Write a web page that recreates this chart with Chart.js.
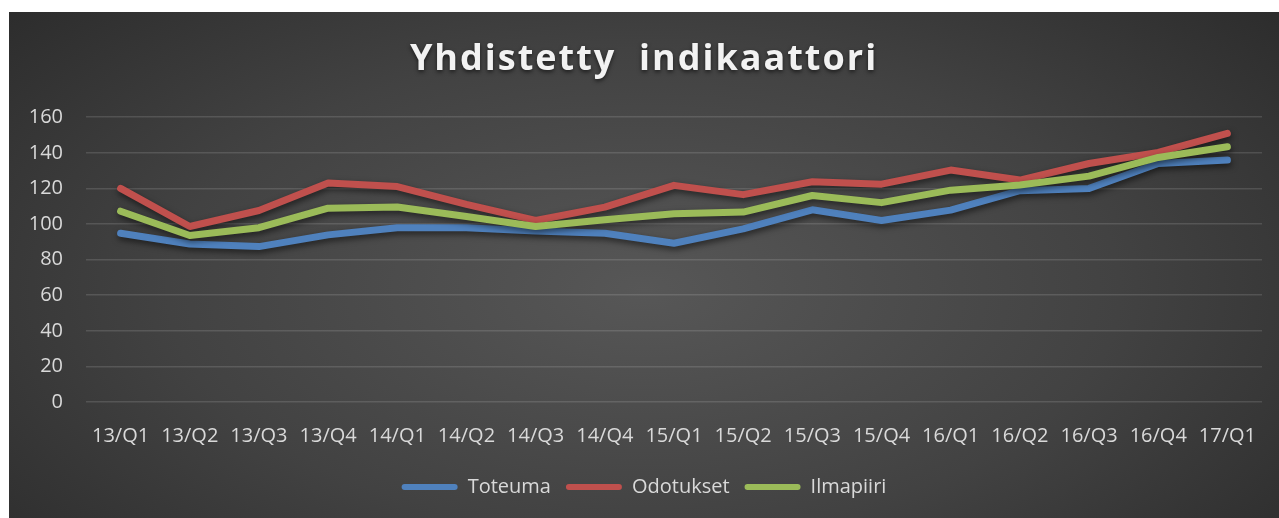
<!DOCTYPE html>
<html>
<head>
<meta charset="utf-8">
<script src="https://cdn.jsdelivr.net/npm/chart.js@4/dist/chart.umd.min.js"></script>
<style>
  html, body { margin: 0; padding: 0; background: #ffffff; width: 1279px; height: 518px; overflow: hidden; }
  #wrap {
    position: absolute; left: 9px; top: 12px; width: 1270px; height: 506px;
    background: radial-gradient(ellipse 75% 95% at 50% 55%, #575757 0%, #424242 50%, #262626 100%);
  }
</style>
</head>
<body>
<div id="wrap"><canvas id="c"></canvas></div>
<script>
const titleText = 'Yhdistetty  indikaattori';
const categories = ['13/Q1','13/Q2','13/Q3','13/Q4','14/Q1','14/Q2','14/Q3','14/Q4','15/Q1','15/Q2','15/Q3','15/Q4','16/Q1','16/Q2','16/Q3','16/Q4','17/Q1'];
const seriesNames = ['Toteuma', 'Odotukset', 'Ilmapiiri'];
const toteuma   = [94.8, 88.8, 87.3, 93.9, 97.9, 97.9, 96.0, 94.8, 89.2, 97.3, 108.0, 102.0, 107.8, 118.7, 120.0, 134.0, 135.9];
const odotukset = [120.0, 98.6, 107.6, 123.0, 121.0, 111.0, 102.0, 109.5, 121.7, 116.5, 123.7, 122.4, 130.3, 124.7, 134.0, 140.2, 150.9];
const ilmapiiri = [107.2, 93.5, 97.9, 108.9, 109.5, 104.2, 98.6, 102.4, 105.8, 106.7, 116.0, 112.0, 119.0, 121.9, 126.9, 137.4, 143.4];
const yTicks = { min: 0, max: 160, step: 20 };
const colors = ['#4F81BD', '#C0504D', '#9BBB59'];

const FONT = "'Open Sans', 'Liberation Sans', sans-serif";
const TEXT = '#d9d9d9';

const lineShadow = {
  id: 'lineShadow',
  beforeDatasetDraw(chart) {
    const c = chart.ctx;
    c.save();
    c.shadowColor = 'rgba(0,0,0,0.55)';
    c.shadowBlur = 6;
    c.shadowOffsetX = 1;
    c.shadowOffsetY = 3;
  },
  afterDatasetDraw(chart) { chart.ctx.restore(); }
};

const titleStyle = {
  id: 'titleStyle',
  beforeDraw(chart) {
    const tb = chart.titleBlock;
    if (tb && !tb._styled) {
      const orig = tb.draw.bind(tb);
      tb.draw = function () {
        const c = chart.ctx;
        c.save();
        c.letterSpacing = '2px';
        c.shadowColor = 'rgba(0,0,0,0.6)';
        c.shadowBlur = 4;
        c.shadowOffsetY = 2;
        orig();
        c.restore();
      };
      tb._styled = true;
    }
  }
};

const datasetsData = [toteuma, odotukset, ilmapiiri];
const drawOrder = [3, 2, 1];

new Chart(document.getElementById('c'), {
  type: 'line',
  data: {
    labels: categories,
    datasets: seriesNames.map((name, i) => ({
      label: name,
      data: datasetsData[i],
      borderColor: colors[i],
      backgroundColor: colors[i],
      borderWidth: 7,
      borderCapStyle: 'round',
      borderJoinStyle: 'round',
      pointRadius: 0,
      pointHoverRadius: 0,
      tension: 0,
      fill: false,
      order: drawOrder[i]
    }))
  },
  options: {
    responsive: true,
    maintainAspectRatio: false,
    animation: false,
    events: [],
    layout: { padding: { left: 17, right: 17, top: 0, bottom: 11 } },
    plugins: {
      title: {
        display: true,
        text: titleText,
        color: '#f2f2f2',
        font: { family: FONT, size: 36, weight: 'bold' },
        padding: { top: 26, bottom: 36 }
      },
      legend: {
        position: 'bottom',
        labels: {
          color: TEXT,
          font: { family: FONT, size: 20 },
          boxWidth: 56,
          boxHeight: 6,
          useBorderRadius: true,
          borderRadius: 3,
          padding: 15,
          sort: (a, b) => a.datasetIndex - b.datasetIndex,
          generateLabels: (chart) => Chart.defaults.plugins.legend.labels.generateLabels(chart)
            .map(l => Object.assign(l, { lineWidth: 0 }))
        }
      },
      tooltip: { enabled: false }
    },
    scales: {
      x: {
        offset: true,
        grid: { display: false, drawTicks: false },
        border: { display: false },
        ticks: { color: TEXT, font: { family: FONT, size: 20 }, padding: 22, maxRotation: 0, autoSkip: false },
        afterFit(s) { s.height = 60; }
      },
      y: {
        min: yTicks.min,
        max: yTicks.max,
        grid: { color: 'rgba(255,255,255,0.13)', lineWidth: 1.5, drawTicks: false },
        border: { display: false },
        ticks: { stepSize: yTicks.step, color: TEXT, font: { family: FONT, size: 20 }, padding: 23 },
        afterFit(s) { s.width = 60; }
      }
    }
  },
  plugins: [lineShadow, titleStyle]
});
</script>
</body>
</html>
